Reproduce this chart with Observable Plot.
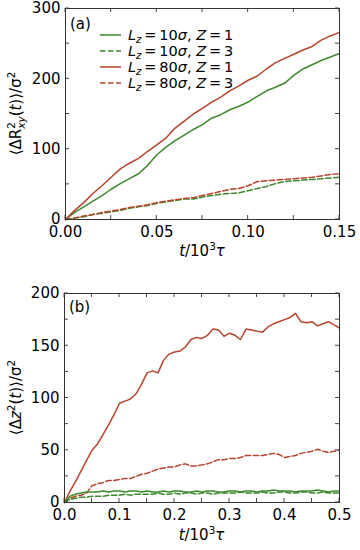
<!DOCTYPE html>
<html><head><meta charset="utf-8">
<script src="https://cdn.jsdelivr.net/npm/d3@7"></script>
<script src="https://cdn.jsdelivr.net/npm/@observablehq/plot@0.6"></script>
<style>
body{margin:0;background:#fff;}
#wrap{width:360px;height:550px;position:relative;}
#wrap svg{display:block;}
svg text{font-family:"DejaVu Sans",sans-serif;}
</style></head><body><div id="wrap"></div>
<script>
// ---------- Panel (a) ----------
const tA = [0, 0.005, 0.01, 0.015, 0.02, 0.025, 0.03, 0.035, 0.04, 0.045, 0.05, 0.055, 0.06, 0.065, 0.07, 0.075, 0.08, 0.085, 0.09, 0.095, 0.10, 0.105, 0.11, 0.115, 0.12, 0.125, 0.13, 0.135, 0.14, 0.145, 0.15];
const aL10Z1 = [0, 10, 18, 26, 34, 43, 51, 58, 65, 77, 92, 103, 112, 120, 128, 135, 144, 149, 156, 161, 167, 175, 183, 188, 194, 205, 214, 220, 226, 231, 236];
const aL10Z3 = [0, 2, 4, 7, 9, 11, 13, 16, 18, 20, 23, 25, 27, 29, 29, 32, 34, 36, 37, 38, 41, 44, 47, 51, 54, 55, 56, 57, 58, 59, 60];
const aL80Z1 = [0, 13, 24, 37, 48, 60, 72, 80, 87, 97, 106, 116, 130, 140, 150, 158, 167, 174, 183, 190, 198, 204, 214, 223, 229, 235, 241, 246, 255, 261, 266];
const aL80Z3 = [0, 2, 5, 7, 10, 12, 14, 17, 19, 21, 24, 26, 28, 30, 31, 34, 37, 40, 43, 44, 48, 54, 55, 56, 57, 58, 59, 60, 62, 64, 65];
const xTicksA = [0, 0.05, 0.10, 0.15];
const yTicksA = [0, 100, 200, 300];
const xMinorA = [0, 0.025, 0.05, 0.075, 0.10, 0.125, 0.15];
const yMinorA = [0, 50, 100, 150, 200, 250, 300];

// ---------- Panel (b) ----------
const tB = [0, 0.01, 0.02, 0.03, 0.04, 0.05, 0.06, 0.07, 0.08, 0.09, 0.10, 0.11, 0.12, 0.13, 0.14, 0.15, 0.16, 0.17, 0.18, 0.19, 0.20, 0.21, 0.22, 0.23, 0.24, 0.25, 0.26, 0.27, 0.28, 0.29, 0.30, 0.31, 0.32, 0.33, 0.34, 0.35, 0.36, 0.37, 0.38, 0.39, 0.40, 0.41, 0.42, 0.43, 0.44, 0.45, 0.46, 0.47, 0.48, 0.49, 0.50];
const bL10Z1 = [0, 6, 8, 9, 10, 10, 10, 11, 10, 11, 11, 10, 11, 11, 10, 11, 10, 10, 11, 10, 11, 11, 10, 10, 11, 10, 11, 11, 10, 10, 11, 11, 10, 11, 11, 10, 11, 11, 12, 11, 11, 11, 10, 11, 11, 11, 12, 11, 10, 11, 11];
const bL10Z3 = [0, 3, 4, 5, 5, 6, 6, 6, 7, 7, 7, 8, 7, 8, 8, 8, 8, 9, 8, 8, 9, 8, 9, 9, 8, 9, 9, 8, 9, 9, 9, 9, 10, 9, 9, 9, 10, 9, 9, 10, 10, 9, 9, 10, 10, 9, 9, 10, 9, 9, 9];
const bL80Z1 = [0, 11, 20, 30, 40, 50, 56, 65, 74, 84, 95, 97, 99, 104, 113, 124, 126, 124, 136, 142, 144, 145, 149, 156, 158, 157, 160, 166, 165, 159, 162, 160, 156, 166, 165, 164, 163, 168, 171, 173, 175, 177, 181, 173, 172, 173, 169, 171, 173, 170, 167];
const bL80Z3 = [0, 4, 6, 7, 9, 16, 18, 19, 21, 21, 22, 23, 23, 25, 27, 28, 30, 32, 33, 34, 34, 36, 37, 35, 35, 36, 37, 39, 41, 41, 42, 42, 43, 45, 45, 45, 45, 46, 47, 46, 43, 44, 45, 47, 48, 49, 51, 49, 48, 49, 50];
const xTicksB = [0, 0.1, 0.2, 0.3, 0.4, 0.5];
const yTicksB = [0, 50, 100, 150, 200];
const xMinorB = [0, 0.05, 0.1, 0.15, 0.2, 0.25, 0.3, 0.35, 0.4, 0.45, 0.5];
const yMinorB = [0, 25, 50, 75, 100, 125, 150, 175, 200];

const seriesNames = ["L10Z1", "L10Z3", "L80Z1", "L80Z3"];
const seriesLz = ["10", "10", "80", "80"];
const seriesZ = ["1", "3", "1", "3"];

const GREEN = "#3b8a2c", RED = "#b8432b";
const styles = {
  L10Z1: {stroke: GREEN, dash: null},
  L10Z3: {stroke: GREEN, dash: "5.5,2.5"},
  L80Z1: {stroke: RED, dash: null},
  L80Z3: {stroke: RED, dash: "5.5,2.5"}
};
const FS = 15;

function rows(t, vals) { return t.map((d, i) => ({t: d, v: vals[i]})); }

const dataA = {L10Z1: rows(tA, aL10Z1), L10Z3: rows(tA, aL10Z3), L80Z1: rows(tA, aL80Z1), L80Z3: rows(tA, aL80Z3)};
const dataB = {L10Z1: rows(tB, bL10Z1), L10Z3: rows(tB, bL10Z3), L80Z1: rows(tB, bL80Z1), L80Z3: rows(tB, bL80Z3)};

function lineMarks(data, order) {
  return order.map(k => Plot.line(data[k], {x: "t", y: "v", stroke: styles[k].stroke, strokeWidth: 1.5, strokeDasharray: styles[k].dash}));
}

function makeChart(o) {
  return Plot.plot({
    width: 360, height: o.height,
    marginTop: o.mt, marginBottom: o.mb, marginLeft: o.ml, marginRight: o.mr,
    style: {fontSize: FS + "px", fontFamily: "DejaVu Sans", color: "#000", background: "#fff"},
    x: {domain: o.xd},
    y: {domain: o.yd},
    marks: [
      ...lineMarks(o.data, o.order),
      Plot.frame({stroke: "#333", strokeWidth: 1}),
      Plot.axisX({ticks: o.xt, tickSize: 0, tickPadding: 7, tickFormat: o.xf, fontSize: FS, label: null}),
      Plot.axisY({ticks: o.yt, tickSize: 0, tickPadding: 5, tickFormat: d => String(d), fontSize: FS, label: null})
    ]
  });
}

function addTicks(chart, xm, ym) {
  const svg = d3.select(chart);
  const sx = chart.scale("x"), sy = chart.scale("y");
  const [x0, x1] = sx.range, [y0, y1] = sy.range;
  const g = svg.append("g").attr("stroke", "#333").attr("stroke-width", 0.9);
  for (const v of xm) {
    const x = sx.apply(v);
    g.append("line").attr("x1", x).attr("x2", x).attr("y1", y0).attr("y2", y0 - 4);
    g.append("line").attr("x1", x).attr("x2", x).attr("y1", y1).attr("y2", y1 + 4);
  }
  for (const v of ym) {
    const y = sy.apply(v);
    g.append("line").attr("x1", x0).attr("x2", x0 + 4).attr("y1", y).attr("y2", y);
    g.append("line").attr("x1", x1).attr("x2", x1 - 4).attr("y1", y).attr("y2", y);
  }
  return {svg, x0, x1, y0, y1};
}

function xLabel(ctx, dyBase) {
  const t = ctx.svg.append("text").attr("x", (ctx.x0 + ctx.x1) / 2).attr("y", ctx.y0 + dyBase)
    .attr("text-anchor", "middle").attr("font-size", FS).attr("fill", "#000");
  t.append("tspan").attr("font-style", "italic").text("t");
  t.append("tspan").text("/10");
  t.append("tspan").attr("font-size", 10.5).attr("dy", -6).text("3");
  t.append("tspan").attr("font-style", "italic").attr("dy", 6).text("τ");
}

const wrap = document.getElementById("wrap");

// Panel a
const chartA = makeChart({height: 270, mt: 8, mb: 51, ml: 65, mr: 21, xd: [0, 0.15], yd: [0, 300],
  data: dataA, order: ["L10Z3", "L80Z3", "L10Z1", "L80Z1"], xt: xTicksA, yt: yTicksA, xf: d3.format(".2f")});
wrap.appendChild(chartA);
const ca = addTicks(chartA, xMinorA, yMinorA);
xLabel(ca, 37);
{
  const cy = (ca.y0 + ca.y1) / 2;
  const t = ca.svg.append("text").attr("transform", `translate(21,${cy}) rotate(-90)`)
    .attr("text-anchor", "middle").attr("font-size", FS).attr("fill", "#000");
  t.append("tspan").text("⟨ΔR");
  t.append("tspan").attr("font-size", 10.5).attr("dy", -6).text("2");
  t.append("tspan").attr("font-size", 10.5).attr("font-style", "italic").attr("dx", -6.7).attr("dy", 10).text("xy");
  t.append("tspan").attr("dy", -4).text("(");
  t.append("tspan").attr("font-style", "italic").text("t");
  t.append("tspan").text(")⟩/σ");
  t.append("tspan").attr("font-size", 10.5).attr("dy", -6).text("2");
  ca.svg.append("text").attr("x", ca.x0 + 5).attr("y", ca.y1 + 21).attr("text-anchor", "start")
    .attr("font-size", FS).attr("fill", "#000").text("(a)");
  // legend
  const order = ["L10Z1", "L10Z3", "L80Z1", "L80Z3"];
  order.forEach((k, i) => {
    const y = 35 + i * 16;
    ca.svg.append("line").attr("x1", 100).attr("x2", 121).attr("y1", y).attr("y2", y)
      .attr("stroke", styles[k].stroke).attr("stroke-width", 1.5).attr("stroke-dasharray", styles[k].dash);
    const t = ca.svg.append("text").attr("x", 128).attr("y", y + 5).attr("text-anchor", "start")
      .attr("font-size", 14.5).attr("fill", "#000");
    const idx = seriesNames.indexOf(k);
    t.append("tspan").attr("font-style", "italic").text("L");
    t.append("tspan").attr("font-style", "italic").attr("font-size", 10).attr("dy", 3).text("z");
    t.append("tspan").attr("dy", -3).text("\u2009=\u2009" + seriesLz[idx]);
    t.append("tspan").attr("font-style", "italic").text("σ");
    t.append("tspan").text(", ");
    t.append("tspan").attr("font-style", "italic").text("Z");
    t.append("tspan").text("\u2009=\u2009" + seriesZ[idx]);
  });
}

// Panel b
const chartB = makeChart({height: 280, mt: 23, mb: 48, ml: 64, mr: 21, xd: [0, 0.5], yd: [0, 200],
  data: dataB, order: ["L80Z3", "L80Z1", "L10Z1", "L10Z3"], xt: xTicksB, yt: yTicksB, xf: d3.format(".1f")});
wrap.appendChild(chartB);
const cb = addTicks(chartB, xMinorB, yMinorB);
xLabel(cb, 38);
{
  const cy = (cb.y0 + cb.y1) / 2;
  const t = cb.svg.append("text").attr("transform", `translate(21,${cy}) rotate(-90)`)
    .attr("text-anchor", "middle").attr("font-size", FS).attr("fill", "#000");
  t.append("tspan").text("⟨Δ");
  t.append("tspan").attr("font-style", "italic").text("z");
  t.append("tspan").attr("font-size", 10.5).attr("dy", -6).text("2");
  t.append("tspan").attr("dy", 6).text("(");
  t.append("tspan").attr("font-style", "italic").text("t");
  t.append("tspan").text(")⟩/σ");
  t.append("tspan").attr("font-size", 10.5).attr("dy", -6).text("2");
  cb.svg.append("text").attr("x", cb.x0 + 5).attr("y", cb.y1 + 19).attr("text-anchor", "start")
    .attr("font-size", FS).attr("fill", "#000").text("(b)");
}
</script></body></html>
